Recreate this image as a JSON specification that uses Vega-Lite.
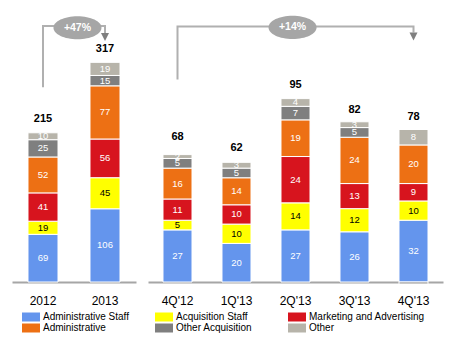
{
  "$schema": "https://vega.github.io/schema/vega-lite/v6.json",
  "padding": {"left": 12, "top": 5, "right": 5, "bottom": 5},
  "config": {
    "view": {"stroke": null},
    "font": "Liberation Sans",
    "concat": {"spacing": 12},
    "axis": {
      "labelFont": "Liberation Sans", "labelFontSize": 12, "labelColor": "#000000",
      "domainColor": "#a6a6a6", "domainWidth": 2, "ticks": false, "labelPadding": 13,
      "labelAngle": 0, "title": null, "grid": false
    },
    "legend": {
      "orient": "none", "direction": "horizontal", "legendX": 14, "legendY": 307, "columns": 3, "title": null, "labelFont": "Liberation Sans",
      "labelFontSize": 10, "labelColor": "#000000", "gridAlign": "all",
      "symbolType": "M-2,-1H2V1H-2Z", "symbolSize": 81, "symbolStrokeWidth": 0,
      "rowPadding": 1, "columnPadding": -10, "labelOffset": 7
    }
  },
  "datasets": {
    "costs": [
      {"panel": "annual", "period": "2012", "category": "Administrative Staff", "value": 69},
      {"panel": "annual", "period": "2012", "category": "Acquisition Staff", "value": 19},
      {"panel": "annual", "period": "2012", "category": "Marketing and Advertising", "value": 41},
      {"panel": "annual", "period": "2012", "category": "Administrative", "value": 52},
      {"panel": "annual", "period": "2012", "category": "Other Acquisition", "value": 25},
      {"panel": "annual", "period": "2012", "category": "Other", "value": 10},
      {"panel": "annual", "period": "2013", "category": "Administrative Staff", "value": 106},
      {"panel": "annual", "period": "2013", "category": "Acquisition Staff", "value": 45},
      {"panel": "annual", "period": "2013", "category": "Marketing and Advertising", "value": 56},
      {"panel": "annual", "period": "2013", "category": "Administrative", "value": 77},
      {"panel": "annual", "period": "2013", "category": "Other Acquisition", "value": 15},
      {"panel": "annual", "period": "2013", "category": "Other", "value": 19},
      {"panel": "quarterly", "period": "4Q'12", "category": "Administrative Staff", "value": 27},
      {"panel": "quarterly", "period": "4Q'12", "category": "Acquisition Staff", "value": 5},
      {"panel": "quarterly", "period": "4Q'12", "category": "Marketing and Advertising", "value": 11},
      {"panel": "quarterly", "period": "4Q'12", "category": "Administrative", "value": 16},
      {"panel": "quarterly", "period": "4Q'12", "category": "Other Acquisition", "value": 5},
      {"panel": "quarterly", "period": "4Q'12", "category": "Other", "value": 2},
      {"panel": "quarterly", "period": "1Q'13", "category": "Administrative Staff", "value": 20},
      {"panel": "quarterly", "period": "1Q'13", "category": "Acquisition Staff", "value": 10},
      {"panel": "quarterly", "period": "1Q'13", "category": "Marketing and Advertising", "value": 10},
      {"panel": "quarterly", "period": "1Q'13", "category": "Administrative", "value": 14},
      {"panel": "quarterly", "period": "1Q'13", "category": "Other Acquisition", "value": 5},
      {"panel": "quarterly", "period": "1Q'13", "category": "Other", "value": 3},
      {"panel": "quarterly", "period": "2Q'13", "category": "Administrative Staff", "value": 27},
      {"panel": "quarterly", "period": "2Q'13", "category": "Acquisition Staff", "value": 14},
      {"panel": "quarterly", "period": "2Q'13", "category": "Marketing and Advertising", "value": 24},
      {"panel": "quarterly", "period": "2Q'13", "category": "Administrative", "value": 19},
      {"panel": "quarterly", "period": "2Q'13", "category": "Other Acquisition", "value": 7},
      {"panel": "quarterly", "period": "2Q'13", "category": "Other", "value": 4},
      {"panel": "quarterly", "period": "3Q'13", "category": "Administrative Staff", "value": 26},
      {"panel": "quarterly", "period": "3Q'13", "category": "Acquisition Staff", "value": 12},
      {"panel": "quarterly", "period": "3Q'13", "category": "Marketing and Advertising", "value": 13},
      {"panel": "quarterly", "period": "3Q'13", "category": "Administrative", "value": 24},
      {"panel": "quarterly", "period": "3Q'13", "category": "Other Acquisition", "value": 5},
      {"panel": "quarterly", "period": "3Q'13", "category": "Other", "value": 3},
      {"panel": "quarterly", "period": "4Q'13", "category": "Administrative Staff", "value": 32},
      {"panel": "quarterly", "period": "4Q'13", "category": "Acquisition Staff", "value": 10},
      {"panel": "quarterly", "period": "4Q'13", "category": "Marketing and Advertising", "value": 9},
      {"panel": "quarterly", "period": "4Q'13", "category": "Administrative", "value": 20},
      {"panel": "quarterly", "period": "4Q'13", "category": "Other Acquisition", "value": -1},
      {"panel": "quarterly", "period": "4Q'13", "category": "Other", "value": 8}
    ],
    "totals": [
      {"panel": "annual", "period": "2012", "total": 215},
      {"panel": "annual", "period": "2013", "total": 317},
      {"panel": "quarterly", "period": "4Q'12", "total": 68},
      {"panel": "quarterly", "period": "1Q'13", "total": 62},
      {"panel": "quarterly", "period": "2Q'13", "total": 95},
      {"panel": "quarterly", "period": "3Q'13", "total": 82},
      {"panel": "quarterly", "period": "4Q'13", "total": 78}
    ],
    "connector": [
      {"panel": "annual", "period": "2012", "step": 1, "level": 282},
      {"panel": "annual", "period": "2012", "step": 2, "level": 370.5},
      {"panel": "annual", "period": "2013", "step": 3, "level": 370.5},
      {"panel": "annual", "period": "2013", "step": 4, "level": 358},
      {"panel": "quarterly", "period": "4Q'12", "step": 1, "level": 104.9},
      {"panel": "quarterly", "period": "4Q'12", "step": 2, "level": 132.4},
      {"panel": "quarterly", "period": "4Q'13", "step": 3, "level": 132.4},
      {"panel": "quarterly", "period": "4Q'13", "step": 4, "level": 129.3}
    ],
    "arrows": [
      {"panel": "annual", "period": "2013", "level": 354.5},
      {"panel": "quarterly", "period": "4Q'13", "level": 127.2}
    ],
    "badges": [
      {"panel": "annual", "pos": 0.528, "level": 368, "label": "+47%"},
      {"panel": "quarterly", "pos": 0.49, "level": 131.9, "label": "+14%"}
    ]
  },
  "hconcat": [
    {
      "width": 124, "height": 277,
      "resolve": {"scale": {"x": "independent"}},
      "layer": [
        {
          "data": {"name": "costs"},
          "transform": [
            {"filter": "datum.panel === 'annual'"},
            {"calculate": "indexof(['Administrative Staff','Acquisition Staff','Marketing and Advertising','Administrative','Other Acquisition','Other'], datum.category)", "as": "k"}
          ],
          "mark": {"type": "bar", "stroke": "#ffffff", "strokeWidth": 1},
          "encoding": {
            "x": {"field": "period", "type": "nominal", "sort": null, "scale": {"domain": ["2012", "2013"], "paddingInner": 0.516, "paddingOuter": 0.258}},
            "y": {"field": "value", "type": "quantitative", "stack": "zero", "scale": {"domain": [0, 401], "nice": false}, "axis": null},
            "color": {"field": "category", "type": "nominal",
              "scale": {"domain": ["Administrative Staff", "Acquisition Staff", "Marketing and Advertising", "Administrative", "Other Acquisition", "Other"],
                        "range": ["#6495ed", "#ffff00", "#d7141e", "#ed7014", "#7f7f7f", "#b7b4aa"]}},
            "order": {"field": "k", "type": "quantitative"}
          }
        },
        {
          "data": {"name": "costs"},
          "transform": [
            {"filter": "datum.panel === 'annual'"},
            {"calculate": "indexof(['Administrative Staff','Acquisition Staff','Marketing and Advertising','Administrative','Other Acquisition','Other'], datum.category)", "as": "k"},
            {"stack": "value", "groupby": ["period"], "sort": [{"field": "k", "order": "ascending"}], "as": ["y0", "y1"]},
            {"calculate": "(datum.y0 + datum.y1) / 2", "as": "mid"},
            {"filter": "datum.value > 0"}
          ],
          "mark": {"type": "text", "fontSize": 9.5, "baseline": "middle"},
          "encoding": {
            "x": {"field": "period", "type": "nominal", "sort": null, "scale": {"domain": ["2012", "2013"], "paddingInner": 0.516, "paddingOuter": 0.258}, "axis": null},
            "y": {"field": "mid", "type": "quantitative"},
            "text": {"field": "value", "type": "quantitative"},
            "color": {"condition": {"test": "datum.category === 'Acquisition Staff'", "value": "#000000"}, "value": "#ffffff"}
          }
        },
        {
          "data": {"name": "totals"},
          "transform": [{"filter": "datum.panel === 'annual'"}],
          "mark": {"type": "text", "fontSize": 11, "fontWeight": "bold", "baseline": "bottom", "dy": -9, "color": "#000000"},
          "encoding": {
            "x": {"field": "period", "type": "nominal", "sort": null, "scale": {"domain": ["2012", "2013"], "paddingInner": 0.516, "paddingOuter": 0.258}, "axis": null},
            "y": {"field": "total", "type": "quantitative"},
            "text": {"field": "total", "type": "quantitative"}
          }
        },
        {
          "data": {"name": "connector"},
          "transform": [{"filter": "datum.panel === 'annual'"}],
          "mark": {"type": "line", "color": "#b0b0b0", "strokeWidth": 2},
          "encoding": {
            "x": {"field": "period", "type": "nominal", "sort": null, "scale": {"domain": ["2012", "2013"], "paddingInner": 0.516, "paddingOuter": 0.258}, "axis": null},
            "y": {"field": "level", "type": "quantitative"},
            "order": {"field": "step", "type": "quantitative"}
          }
        },
        {
          "data": {"name": "arrows"},
          "transform": [{"filter": "datum.panel === 'annual'"}],
          "mark": {"type": "point", "shape": "M-1,-1L1,-1L0,1Z", "size": 64, "filled": true, "color": "#7f7f7f", "opacity": 1},
          "encoding": {
            "x": {"field": "period", "type": "nominal", "sort": null, "scale": {"domain": ["2012", "2013"], "paddingInner": 0.516, "paddingOuter": 0.258}, "axis": null},
            "y": {"field": "level", "type": "quantitative"}
          }
        },
        {
          "data": {"name": "badges"},
          "transform": [{"filter": "datum.panel === 'annual'"}],
          "mark": {"type": "point", "shape": "M-1,0A1,0.48,0,1,1,1,0A1,0.48,0,1,1,-1,0Z", "size": 2304, "filled": true, "color": "#a6a6a6", "opacity": 1},
          "encoding": {
            "x": {"field": "pos", "type": "quantitative", "scale": {"domain": [0, 1], "nice": false}, "axis": null},
            "y": {"field": "level", "type": "quantitative"}
          }
        },
        {
          "data": {"name": "badges"},
          "transform": [{"filter": "datum.panel === 'annual'"}],
          "mark": {"type": "text", "fontSize": 10.5, "fontWeight": "bold", "color": "#ffffff", "baseline": "middle"},
          "encoding": {
            "x": {"field": "pos", "type": "quantitative", "scale": {"domain": [0, 1], "nice": false}, "axis": null},
            "y": {"field": "level", "type": "quantitative"},
            "text": {"field": "label", "type": "nominal"}
          }
        }
      ]
    },
    {
      "width": 295, "height": 277,
      "resolve": {"scale": {"x": "independent"}},
      "layer": [
        {
          "data": {"name": "costs"},
          "transform": [
            {"filter": "datum.panel === 'quarterly'"},
            {"calculate": "indexof(['Administrative Staff','Acquisition Staff','Marketing and Advertising','Administrative','Other Acquisition','Other'], datum.category)", "as": "k"}
          ],
          "mark": {"type": "bar", "stroke": "#ffffff", "strokeWidth": 1},
          "encoding": {
            "x": {"field": "period", "type": "nominal", "sort": null, "scale": {"domain": ["4Q'12", "1Q'13", "2Q'13", "3Q'13", "4Q'13"], "paddingInner": 0.508, "paddingOuter": 0.254}},
            "y": {"field": "value", "type": "quantitative", "stack": "zero", "scale": {"domain": [0, 143.5], "nice": false}, "axis": null},
            "color": {"field": "category", "type": "nominal"},
            "order": {"field": "k", "type": "quantitative"}
          }
        },
        {
          "data": {"name": "costs"},
          "transform": [
            {"filter": "datum.panel === 'quarterly'"},
            {"calculate": "indexof(['Administrative Staff','Acquisition Staff','Marketing and Advertising','Administrative','Other Acquisition','Other'], datum.category)", "as": "k"},
            {"stack": "value", "groupby": ["period"], "sort": [{"field": "k", "order": "ascending"}], "as": ["y0", "y1"]},
            {"calculate": "(datum.y0 + datum.y1) / 2", "as": "mid"},
            {"filter": "datum.value > 0"}
          ],
          "mark": {"type": "text", "fontSize": 9.5, "baseline": "middle"},
          "encoding": {
            "x": {"field": "period", "type": "nominal", "sort": null, "scale": {"domain": ["4Q'12", "1Q'13", "2Q'13", "3Q'13", "4Q'13"], "paddingInner": 0.508, "paddingOuter": 0.254}, "axis": null},
            "y": {"field": "mid", "type": "quantitative"},
            "text": {"field": "value", "type": "quantitative"},
            "color": {"condition": {"test": "datum.category === 'Acquisition Staff'", "value": "#000000"}, "value": "#ffffff"}
          }
        },
        {
          "data": {"name": "totals"},
          "transform": [{"filter": "datum.panel === 'quarterly'"}],
          "mark": {"type": "text", "fontSize": 11, "fontWeight": "bold", "baseline": "bottom", "dy": -9, "color": "#000000"},
          "encoding": {
            "x": {"field": "period", "type": "nominal", "sort": null, "scale": {"domain": ["4Q'12", "1Q'13", "2Q'13", "3Q'13", "4Q'13"], "paddingInner": 0.508, "paddingOuter": 0.254}, "axis": null},
            "y": {"field": "total", "type": "quantitative"},
            "text": {"field": "total", "type": "quantitative"}
          }
        },
        {
          "data": {"name": "connector"},
          "transform": [{"filter": "datum.panel === 'quarterly'"}],
          "mark": {"type": "line", "color": "#b0b0b0", "strokeWidth": 2},
          "encoding": {
            "x": {"field": "period", "type": "nominal", "sort": null, "scale": {"domain": ["4Q'12", "1Q'13", "2Q'13", "3Q'13", "4Q'13"], "paddingInner": 0.508, "paddingOuter": 0.254}, "axis": null},
            "y": {"field": "level", "type": "quantitative"},
            "order": {"field": "step", "type": "quantitative"}
          }
        },
        {
          "data": {"name": "arrows"},
          "transform": [{"filter": "datum.panel === 'quarterly'"}],
          "mark": {"type": "point", "shape": "M-1,-1L1,-1L0,1Z", "size": 64, "filled": true, "color": "#7f7f7f", "opacity": 1},
          "encoding": {
            "x": {"field": "period", "type": "nominal", "sort": null, "scale": {"domain": ["4Q'12", "1Q'13", "2Q'13", "3Q'13", "4Q'13"], "paddingInner": 0.508, "paddingOuter": 0.254}, "axis": null},
            "y": {"field": "level", "type": "quantitative"}
          }
        },
        {
          "data": {"name": "badges"},
          "transform": [{"filter": "datum.panel === 'quarterly'"}],
          "mark": {"type": "point", "shape": "M-1,0A1,0.48,0,1,1,1,0A1,0.48,0,1,1,-1,0Z", "size": 2304, "filled": true, "color": "#a6a6a6", "opacity": 1},
          "encoding": {
            "x": {"field": "pos", "type": "quantitative", "scale": {"domain": [0, 1], "nice": false}, "axis": null},
            "y": {"field": "level", "type": "quantitative"}
          }
        },
        {
          "data": {"name": "badges"},
          "transform": [{"filter": "datum.panel === 'quarterly'"}],
          "mark": {"type": "text", "fontSize": 10.5, "fontWeight": "bold", "color": "#ffffff", "baseline": "middle"},
          "encoding": {
            "x": {"field": "pos", "type": "quantitative", "scale": {"domain": [0, 1], "nice": false}, "axis": null},
            "y": {"field": "level", "type": "quantitative"},
            "text": {"field": "label", "type": "nominal"}
          }
        }
      ]
    }
  ],
  "resolve": {"scale": {"y": "independent", "color": "shared"}}
}
